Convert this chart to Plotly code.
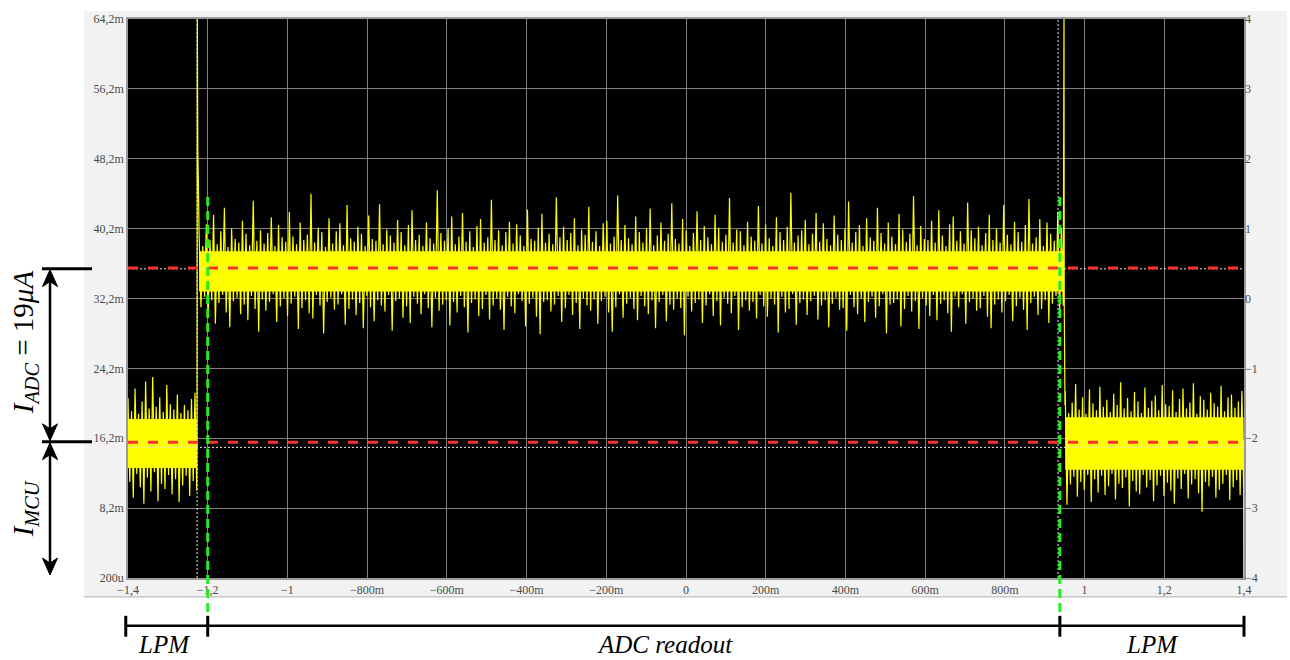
import numpy as np
import plotly.graph_objects as go

# ---------------- axis ticks ----------------
x_ticks = [-1.4, -1.2, -1.0, -0.8, -0.6, -0.4, -0.2, 0.0, 0.2, 0.4, 0.6, 0.8, 1.0, 1.2, 1.4]
x_ticktext = ["−1,4", "−1,2", "−1", "−800m", "−600m", "−400m", "−200m", "0",
              "200m", "400m", "600m", "800m", "1", "1,2", "1,4"]
y_ticks = [0.2, 8.2, 16.2, 24.2, 32.2, 40.2, 48.2, 56.2, 64.2]
y_ticktext = ["200u", "8,2m", "16,2m", "24,2m", "32,2m", "40,2m", "48,2m", "56,2m", "64,2m"]
y2_ticks = [-4, -3, -2, -1, 0, 1, 2, 3, 4]

# ---------------- segments (time, s) ----------------
lpm1_span = [-1.4, -1.2275]
adc_span = [-1.2215, 0.9465]
lpm2_span = [0.9515, 1.399]

# dense (solid) part of the noise band, per segment [LPM1, ADC, LPM2]
band_top = [18.4, 37.6, 18.6]
band_bot = [12.8, 33.0, 12.6]

# spike peaks / troughs (mA)
lpm1_hi = [20.8, 19.3, 21.9, 19.0, 20.4, 22.7, 19.6, 23.2, 19.8, 20.9, 19.2, 22.3,
           20.1, 19.5, 21.2, 19.1, 20.0, 19.4, 20.7, 21.4]
lpm1_lo = [11.2, 9.4, 12.1, 10.6, 8.7, 11.7, 10.1, 12.3, 9.0, 11.0, 10.4, 12.0,
           9.8, 11.5, 8.9, 10.8, 11.9, 9.6, 11.3, 10.2]

adc_hi = [39.4, 38.2, 40.7, 38.9, 41.8, 38.4, 39.9, 42.6, 38.1, 40.2, 39.0, 38.6,
          41.1, 39.6, 38.3, 43.4, 38.8, 40.0, 38.5, 39.7, 41.5, 38.2, 40.6, 39.2,
          38.7, 42.1, 39.3, 38.4, 40.9, 38.9, 39.5, 44.2, 38.6, 40.3, 39.8, 38.1,
          41.4, 38.5, 39.9, 40.8, 38.3, 42.9, 39.1, 38.7, 40.4, 39.6, 38.2, 41.7,
          39.0, 38.8, 43.0, 38.4, 40.1, 39.4, 38.6, 41.2, 39.8, 38.3, 40.6, 42.3,
          38.9, 39.5, 38.2, 40.9, 39.1, 38.5, 44.6, 39.7, 38.8, 40.2, 41.6, 38.4,
          39.3, 42.0, 38.7, 39.9, 38.1, 40.5, 41.3, 38.6, 39.2, 43.5, 38.9, 40.0,
          38.3, 39.8, 41.0, 38.5, 40.7, 39.4, 38.2, 42.4, 39.0, 38.8, 40.3, 41.9,
          38.6, 39.6, 38.4, 43.8, 39.2, 40.4, 38.9, 39.7, 41.4, 38.3, 40.1, 39.5,
          42.7, 38.7, 39.9, 38.2, 40.8, 41.1, 38.5, 39.3, 44.0, 38.9, 40.6, 39.1,
          38.4, 41.6, 39.8, 38.6, 40.2, 42.5, 38.3, 39.4, 40.9, 38.8, 39.6, 43.1,
          39.0, 38.5, 41.3, 40.0, 38.2, 39.7, 42.2, 38.9, 40.5, 39.2, 38.4, 41.8,
          40.3, 38.7, 39.5, 43.7, 38.6, 40.1, 39.9, 38.3, 41.0, 39.3, 38.8, 42.8,
          38.5, 40.7, 39.1, 38.2, 41.5, 39.8, 38.9, 40.4, 44.3, 38.6, 39.4, 40.0,
          41.2, 38.4, 39.6, 42.0, 38.7, 40.8, 39.0, 38.3, 41.7, 39.5, 38.9, 40.2,
          43.3, 38.6, 39.8, 40.6, 38.2, 41.4, 39.2, 38.8, 42.6, 39.7, 38.5, 40.9,
          39.3, 38.4, 41.9, 40.1, 38.7, 39.6, 43.9, 38.3, 40.5, 39.0, 38.9, 41.1,
          38.6, 42.3, 39.4, 38.2, 40.7, 41.6, 38.8, 39.9, 38.5, 43.2, 40.0, 39.1,
          40.4, 38.3, 39.7, 41.8, 38.9, 40.2, 38.6, 42.9, 39.5, 38.4, 41.0, 39.8,
          38.7, 40.6, 43.6, 38.5, 39.2, 41.3, 38.2, 40.9, 39.6, 38.8, 42.1, 40.3]
adc_lo = [31.2, 32.4, 30.1, 32.0, 29.3, 31.7, 32.6, 30.6, 28.9, 31.9, 32.3, 30.4,
          31.5, 29.7, 32.5, 31.0, 28.4, 32.1, 30.8, 31.8, 32.7, 29.5, 31.3, 32.2,
          30.2, 31.6, 32.4, 28.7, 31.1, 32.0, 30.5, 29.9, 32.6, 31.4, 28.2, 31.8,
          32.3, 30.9, 31.5, 32.7, 29.2, 31.0, 32.1, 30.3, 31.7, 28.8, 32.5, 31.2,
          29.6, 32.0, 31.4, 30.7, 32.6, 28.5, 31.9, 32.2, 30.0, 31.3, 29.4, 32.4,
          31.6, 30.4, 32.7, 31.1, 28.9, 32.3, 30.8, 31.5, 32.0, 29.1, 31.8, 30.6,
          32.5, 31.2, 28.3, 31.7, 32.1, 30.2, 31.0, 32.6, 29.8, 31.4, 32.2, 30.9,
          28.6, 32.4, 31.3, 30.5, 32.7, 31.9, 29.0, 31.6, 32.3, 30.1, 28.1, 31.8,
          32.0, 30.7, 31.5, 32.5, 29.5, 31.1, 32.6, 30.3, 31.7, 28.7, 32.2, 31.4,
          30.8, 32.1, 29.3, 31.9, 32.4, 30.6, 28.4, 31.2, 32.7, 30.0, 31.6, 32.3,
          31.0, 29.7, 32.5, 31.3, 30.4, 32.0, 28.8, 31.8, 32.6, 29.6, 31.5, 30.9,
          32.2, 31.1, 28.0, 32.4, 30.7, 31.7, 32.1, 29.4, 31.4, 32.7, 30.2, 31.9,
          29.1, 32.3, 31.6, 30.5, 32.5, 28.6, 31.2, 32.0, 30.8, 31.8, 29.9, 32.6,
          31.3, 30.1, 32.2, 31.5, 28.3, 32.4, 30.6, 31.0, 32.7, 29.2, 31.7, 32.1,
          30.3, 31.9, 32.5, 29.8, 31.4, 32.0, 28.9, 31.6, 32.3, 30.9, 31.1, 28.5,
          32.6, 31.2, 30.4, 32.2, 29.5, 31.8, 32.4, 30.0, 31.3, 32.7, 28.2, 31.5,
          31.7, 32.1, 29.0, 31.0, 32.5, 30.7, 31.9, 28.7, 32.3, 31.4, 30.2, 32.6,
          29.7, 31.6, 32.0, 30.5, 28.4, 32.4, 31.2, 32.7, 29.3, 31.8, 32.2, 30.8,
          31.1, 32.5, 30.1, 28.8, 31.5, 32.1, 30.6, 31.9, 32.6, 29.6, 31.3, 32.3,
          30.9, 28.6, 31.7, 32.4, 30.3, 31.0, 32.0, 29.4, 31.6, 32.5, 30.7, 31.4]

lpm2_hi = [21.6, 19.1, 20.3, 22.4, 19.5, 20.9, 19.0, 21.8, 20.2, 19.4, 22.1, 19.8,
           20.6, 19.2, 21.3, 20.0, 22.6, 19.6, 20.8, 19.3, 21.5, 20.4, 19.1, 22.0,
           19.7, 20.5, 21.1, 19.4, 22.3, 20.1, 19.9, 21.7, 19.2, 20.7, 21.9, 19.6,
           20.3, 22.5, 19.0, 21.0, 20.6, 19.5, 21.4, 20.2, 19.8, 22.2, 19.3, 20.9,
           21.2, 19.7, 20.4, 21.6]
lpm2_lo = [8.6, 10.9, 11.8, 9.5, 11.2, 10.3, 12.0, 8.9, 11.5, 10.0, 11.9, 9.7,
           10.7, 12.1, 9.2, 11.0, 10.5, 11.7, 8.4, 11.3, 10.1, 9.8, 12.0, 10.6,
           11.4, 9.0, 10.8, 11.9, 9.6, 11.1, 10.2, 8.7, 11.6, 10.4, 12.1, 9.3,
           10.9, 11.5, 9.9, 7.8, 11.2, 10.7, 11.8, 9.4, 10.3, 11.0, 12.0, 9.1,
           10.6, 11.4, 9.7, 10.5]

# wake-up / power-down transients
rise_t = [-1.2268, -1.2262, -1.2255, -1.2248, -1.2240, -1.2232, -1.2222]
rise_v = [16.0, 66.0, 53.0, 49.0, 47.0, 44.0, 40.0]
fall_t = [0.9470, 0.9484, 0.9490, 0.9498, 0.9508]
fall_v = [38.0, 66.0, 31.5, 28.0, 20.0]
end_t = [1.399, 1.3995]
end_v = [16.0, 0.2]

# reference levels
level_adc = 35.7
level_mcu = 15.75
dotted_hi = 35.6
dotted_lo = 15.15
wake_t = -1.2265
sleep_t = 0.9335
adc_start_t = -1.2
adc_end_t = 0.938

X0, X1 = -1.4, 1.4
Y0, Y1 = 0.2, 64.2


def zigzag(span, hi, lo):
    t = np.linspace(span[0], span[1], 2 * len(hi))
    v = []
    for a, b in zip(hi, lo):
        v += [a, b]
    return list(t), v


t1, v1 = zigzag(lpm1_span, lpm1_hi, lpm1_lo)
t2, v2 = zigzag(adc_span, adc_hi, adc_lo)
t3, v3 = zigzag(lpm2_span, lpm2_hi, lpm2_lo)
sig_t = t1 + rise_t + t2 + fall_t + t3 + end_t
sig_v = v1 + rise_v + v2 + fall_v + v3 + end_v

YEL = "#ffff00"
fig = go.Figure()

for span, top, bot in zip([lpm1_span, adc_span, lpm2_span], band_top, band_bot):
    fig.add_trace(go.Scatter(
        x=[span[0], span[1], span[1], span[0], span[0]],
        y=[top, top, bot, bot, top],
        fill="toself", fillcolor=YEL, line=dict(width=0, color=YEL),
        mode="lines", hoverinfo="skip", showlegend=False))

fig.add_trace(go.Scatter(x=sig_t, y=sig_v, mode="lines",
                         line=dict(color=YEL, width=1.2), showlegend=False,
                         hoverinfo="skip"))
# invisible trace to activate the right axis
fig.add_trace(go.Scatter(x=[0], y=[0], yaxis="y2", mode="markers",
                         marker=dict(opacity=0), showlegend=False, hoverinfo="skip"))

# ---------------- geometry helpers (paper coords) ----------------
L, R, T, B = 128, 46, 16, 82
W, H = 1290, 660
PW, PH = W - L - R, H - T - B


def px_x(px):
    return (px - L) / PW


def px_y(py):
    return (H - B - py) / PH


def dx(t):
    return (t - X0) / (X1 - X0)


shapes = []
# grey instrument frame + black plot area
shapes.append(dict(type="rect", xref="paper", yref="paper", x0=px_x(84), x1=px_x(1287),
                   y0=px_y(597), y1=px_y(8), fillcolor="#f2f2f2", line=dict(width=0),
                   layer="below"))
shapes.append(dict(type="line", xref="paper", yref="paper", x0=px_x(84), x1=px_x(1287),
                   y0=px_y(597), y1=px_y(597), line=dict(color="#b0b0b0", width=1),
                   layer="below"))
shapes.append(dict(type="rect", xref="paper", yref="paper", x0=0, x1=1, y0=0, y1=1,
                   fillcolor="black", line=dict(width=0), layer="below"))

# white dotted cursors
for t in [wake_t, sleep_t]:
    shapes.append(dict(type="line", xref="x", yref="y", x0=t, x1=t, y0=Y0, y1=Y1,
                       line=dict(color="#e8e8e8", width=1, dash="2px,2px"), layer="above"))
for lv in [dotted_hi, dotted_lo]:
    shapes.append(dict(type="line", xref="x", yref="y", x0=X0, x1=X1, y0=lv, y1=lv,
                       line=dict(color="#e8e8e8", width=1, dash="2px,2px"), layer="above"))
# red dashed mean levels
for lv in [level_adc, level_mcu]:
    shapes.append(dict(type="line", xref="x", yref="y", x0=X0, x1=X1, y0=lv, y1=lv,
                       line=dict(color="#ff3030", width=3, dash="10px,10px"), layer="above"))
# green dashed phase boundaries (extending below the plot)
for t in [adc_start_t, adc_end_t]:
    shapes.append(dict(type="line", xref="paper", yref="paper", x0=dx(t), x1=dx(t),
                       y0=px_y(195), y1=px_y(621),
                       line=dict(color="#22ee22", width=3, dash="9px,5px"), layer="above"))

# bottom bracket
br_y = px_y(626)
shapes.append(dict(type="line", xref="paper", yref="paper", x0=dx(X0) - 0.002, x1=dx(X1) - 0.001,
                   y0=br_y, y1=br_y, line=dict(color="black", width=2.5)))
for t in [X0, adc_start_t, adc_end_t, X1]:
    xx = dx(t) - (0.002 if t == X0 else 0.0)
    shapes.append(dict(type="line", xref="paper", yref="paper", x0=xx, x1=xx,
                       y0=px_y(616), y1=px_y(637), line=dict(color="black", width=3)))

# left current markers: tick lines, shafts and arrowheads
for py in [267, 441]:
    shapes.append(dict(type="line", xref="paper", yref="paper", x0=px_x(42), x1=px_x(92),
                       y0=px_y(py), y1=px_y(py), line=dict(color="black", width=3)))
AX = 50
for p0, p1 in [(275, 433), (449, 567)]:
    shapes.append(dict(type="line", xref="paper", yref="paper", x0=px_x(AX), x1=px_x(AX),
                       y0=px_y(p0), y1=px_y(p1), line=dict(color="black", width=2.5)))


def arrow_head(tip_y, direction):
    # direction = +1 points up (tip above body), -1 points down
    s = direction
    pts = [(AX, tip_y), (AX - 7.5, tip_y + s * 17), (AX, tip_y + s * 12), (AX + 7.5, tip_y + s * 17)]
    path = "M " + " L ".join(f"{px_x(a):.5f},{px_y(b):.5f}" for a, b in pts) + " Z"
    return dict(type="path", xref="paper", yref="paper", path=path,
                fillcolor="black", line=dict(color="black", width=1))


shapes += [arrow_head(268, 1), arrow_head(440, -1), arrow_head(442, 1), arrow_head(575, -1)]

annotations = []
lab_font = dict(family="Liberation Serif", size=25, color="black")
for txt, px in [("<i>LPM</i>", 164), ("<i>ADC readout</i>", 665), ("<i>LPM</i>", 1152)]:
    annotations.append(dict(xref="paper", yref="paper", x=px_x(px), y=px_y(645),
                            text=txt, showarrow=False, font=lab_font,
                            xanchor="center", yanchor="middle"))
big_font = dict(family="Liberation Serif", size=29, color="black")
annotations.append(dict(xref="paper", yref="paper", x=px_x(25), y=px_y(341),
                        text="<i>I</i><sub><i>ADC</i></sub> = 19<i>μA</i>",
                        textangle=-90, showarrow=False, font=big_font,
                        xanchor="center", yanchor="middle"))
annotations.append(dict(xref="paper", yref="paper", x=px_x(25), y=px_y(509),
                        text="<i>I</i><sub><i>MCU</i></sub>",
                        textangle=-90, showarrow=False, font=big_font,
                        xanchor="center", yanchor="middle"))

tick_font = dict(family="Liberation Serif", size=12, color="#4a4a4a")
fig.update_layout(
    width=W, height=H,
    margin=dict(l=L, r=R, t=T, b=B, pad=0),
    paper_bgcolor="white", plot_bgcolor="black",
    showlegend=False,
    xaxis=dict(range=[X0, X1], tickvals=x_ticks, ticktext=x_ticktext,
               showgrid=True, gridcolor="#7f7f7f", gridwidth=1, zeroline=False,
               showline=True, linecolor="#9a9a9a", linewidth=1.5, mirror=True,
               ticks="", tickfont=tick_font, fixedrange=True),
    yaxis=dict(range=[Y0, Y1], tickvals=y_ticks, ticktext=y_ticktext,
               showgrid=True, gridcolor="#7f7f7f", gridwidth=1, zeroline=False,
               showline=True, linecolor="#9a9a9a", linewidth=1.5, mirror=True,
               ticks="", tickfont=tick_font, fixedrange=True),
    yaxis2=dict(range=[-4, 4], tickvals=y2_ticks, overlaying="y", side="right",
                showgrid=False, zeroline=False, showline=False, ticks="",
                tickfont=tick_font, fixedrange=True),
    shapes=shapes, annotations=annotations,
)

fig.write_html("out.html", config={"displayModeBar": False},
               post_script="document.body.style.margin='0';document.body.style.padding='0';"
                           "document.body.style.overflow='hidden';")
